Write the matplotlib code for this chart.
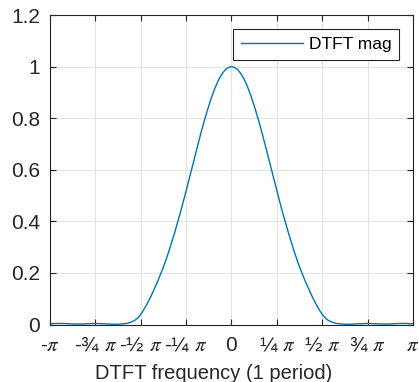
import numpy as np
import matplotlib.pyplot as plt

freq = np.linspace(-np.pi, np.pi, 129)
mag = [0.003, 0.003, 0.004, 0.004, 0.004, 0.004, 0.003, 0.003,
       0.002, 0.002, 0.002, 0.002, 0.002, 0.003, 0.003, 0.004,
       0.004, 0.004, 0.003, 0.003, 0.002, 0.002, 0.001, 0.001,
       0.001, 0.002, 0.003, 0.004, 0.007, 0.011, 0.017, 0.026,
       0.039, 0.056, 0.075, 0.096, 0.119, 0.143, 0.168, 0.195,
       0.223, 0.254, 0.287, 0.322, 0.358, 0.396, 0.435, 0.476,
       0.518, 0.561, 0.605, 0.648, 0.691, 0.733, 0.774, 0.812,
       0.848, 0.882, 0.912, 0.938, 0.960, 0.977, 0.990, 0.997,
       1.000,
       0.997, 0.990, 0.977, 0.960, 0.938, 0.912, 0.882, 0.848,
       0.812, 0.774, 0.733, 0.691, 0.648, 0.605, 0.561, 0.518,
       0.476, 0.435, 0.396, 0.358, 0.322, 0.287, 0.254, 0.223,
       0.195, 0.168, 0.143, 0.119, 0.096, 0.075, 0.056, 0.039,
       0.026, 0.017, 0.011, 0.007, 0.004, 0.003, 0.002, 0.001,
       0.001, 0.001, 0.002, 0.002, 0.003, 0.003, 0.004, 0.004,
       0.004, 0.003, 0.003, 0.002, 0.002, 0.002, 0.002, 0.002,
       0.003, 0.003, 0.004, 0.004, 0.004, 0.004, 0.003, 0.003]

xtick_vals = np.linspace(-np.pi, np.pi, 9)
xtick_labels = ['-$\\pi$', '-¾ $\\pi$', '-½ $\\pi$', '-¼ $\\pi$', '0',
                '¼ $\\pi$', '½ $\\pi$', '¾ $\\pi$', '$\\pi$']
ytick_vals = [0, 0.2, 0.4, 0.6, 0.8, 1.0, 1.2]
ytick_labels = ['0', '0.2', '0.4', '0.6', '0.8', '1', '1.2']

plt.rcParams['font.family'] = ['Liberation Sans', 'DejaVu Sans']
plt.rcParams['mathtext.fontset'] = 'stix'

fig = plt.figure(figsize=(4.19, 3.82), dpi=100)
ax = fig.add_axes([0.1193, 0.1505, 0.8664, 0.8102])

ax.plot(freq, mag, color='#0072BD', linewidth=1.0, label='DTFT mag')

ax.set_xlim(-np.pi, np.pi)
ax.set_ylim(0, 1.2)
ax.set_xticks(xtick_vals)
ax.set_xticklabels(xtick_labels)
ax.set_yticks(ytick_vals)
ax.set_yticklabels(ytick_labels)

ax.grid(True, color='#e3e3e3', linewidth=0.8)
ax.set_axisbelow(True)
ax.tick_params(direction='in', length=4, width=0.8, colors='#262626',
               labelsize=15, top=True, right=True, pad=7)
ax.tick_params(axis='x', pad=8)
for s in ax.spines.values():
    s.set_color('#262626')
    s.set_linewidth(0.8)

ax.set_xlabel('DTFT frequency (1 period)', fontsize=14.5, color='#262626')
ax.xaxis.set_label_coords(0.452, -0.128)

leg = ax.legend(loc='upper right', fontsize=12.5, fancybox=False,
                framealpha=1, edgecolor='#262626', handlelength=3.6,
                borderaxespad=0.8, borderpad=0.45, handletextpad=0.3)
leg.get_frame().set_linewidth(0.8)

fig.savefig('out.png', dpi=100)
